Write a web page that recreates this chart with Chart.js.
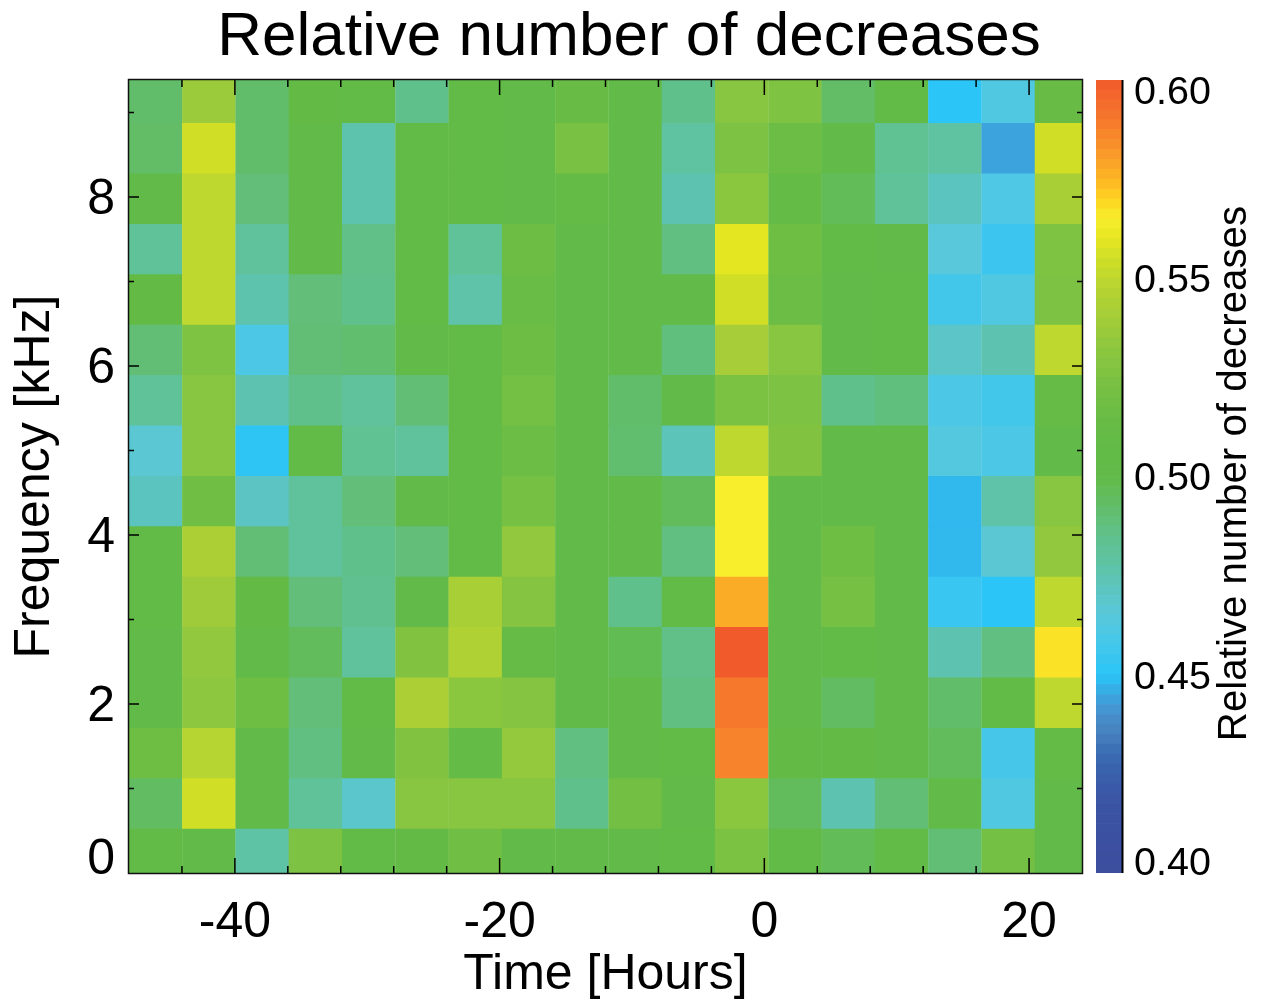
<!DOCTYPE html>
<html>
<head>
<meta charset="utf-8">
<title>Relative number of decreases</title>
<script src="https://cdn.jsdelivr.net/npm/chart.js@4/dist/chart.umd.js"></script>
<style>
html,body{margin:0;padding:0;background:#fff;width:1268px;height:1001px;overflow:hidden}
canvas{position:absolute;left:0;top:0}
</style>
</head>
<body>
<canvas id="main" width="1258" height="1001"></canvas>
<canvas id="bar" width="1268" height="1001"></canvas>
<script>
// Bin centres in hours, and bin edges in kHz (bottom to top).
const timeCenters = [-45.987,-41.961,-37.935,-33.909,-29.883,-25.857,-21.831,-17.805,-13.779,-9.753,-5.727,-1.701,2.325,6.351,10.377,14.403,18.429,22.455];
const freqEdges = [-0.0765,0.52,1.1165,1.713,2.3095,2.906,3.5025,4.099,4.6955,5.292,5.8885,6.485,7.0815,7.678,8.2745,8.871,9.4675];

// Cell values, one array per frequency row, lowest frequency first.
const row01 = [.503,.500,.478,.525,.506,.508,.519,.500,.502,.502,.503,.524,.503,.496,.503,.490,.521,.500];
const row02 = [.494,.555,.502,.481,.469,.530,.530,.530,.485,.520,.502,.531,.495,.475,.490,.500,.462,.500];
const row03 = [.518,.547,.502,.487,.500,.527,.510,.535,.487,.500,.503,.587,.508,.508,.502,.495,.458,.510];
const row04 = [.502,.532,.518,.489,.504,.543,.531,.528,.500,.502,.487,.590,.500,.494,.500,.492,.505,.550];
const row05 = [.502,.534,.500,.495,.480,.527,.545,.511,.500,.497,.486,.600,.500,.504,.500,.475,.487,.567];
const row06 = [.505,.538,.508,.489,.484,.500,.542,.528,.500,.485,.505,.577,.500,.522,.500,.454,.450,.550];
const row07 = [.507,.543,.490,.480,.485,.489,.503,.534,.500,.502,.487,.565,.500,.518,.500,.448,.467,.534];
const row08 = [.472,.519,.471,.480,.489,.500,.503,.522,.500,.502,.495,.565,.500,.500,.500,.448,.477,.530];
const row09 = [.467,.530,.451,.506,.483,.480,.504,.516,.500,.491,.473,.550,.527,.500,.500,.463,.460,.500];
const row10 = [.481,.530,.475,.485,.480,.490,.503,.521,.500,.492,.500,.524,.525,.485,.488,.460,.457,.512];
const row11 = [.490,.526,.460,.490,.491,.500,.503,.517,.500,.501,.488,.541,.530,.500,.505,.470,.475,.550];
const row12 = [.508,.550,.476,.489,.485,.503,.477,.514,.500,.501,.501,.555,.516,.500,.505,.457,.462,.525];
const row13 = [.481,.550,.480,.500,.486,.503,.481,.517,.500,.501,.487,.560,.518,.503,.500,.465,.455,.526];
const row14 = [.500,.550,.489,.500,.476,.504,.504,.501,.510,.502,.475,.531,.509,.496,.481,.472,.461,.542];
const row15 = [.493,.555,.492,.500,.476,.507,.503,.501,.523,.502,.479,.525,.516,.500,.483,.479,.444,.555];
const row16 = [.492,.537,.492,.508,.506,.485,.503,.500,.513,.502,.485,.530,.526,.493,.507,.450,.462,.513];
const rows = [row01,row02,row03,row04,row05,row06,row07,row08,row09,row10,row11,row12,row13,row14,row15,row16];

// Colour scale.
const cbLevels = [.400,.405,.410,.415,.420,.425,.430,.435,.440,.445,.450,.455,.460,.465,.470,.475,.480,.485,.490,.495,.500,.505,.510,.515,.520,.525,.530,.535,.540,.545,.550,.555,.560,.565,.570,.575,.580,.585,.590,.595,.600];
const cbColors = ['#3c4e9e','#3c4f9f','#3b50a1','#3b52a2','#3a57a6','#3a60ac','#3a6cb3','#4680bf','#4690cc','#3aa8e0','#2bc5f7','#3cc6ef','#4cc8e6','#58c8da','#5cc5c8','#5dc3b0','#5fc29c','#60c08c','#62be74','#62bc5c','#62bb48','#62bb47','#64bb46','#6abc45','#72bf44','#7dc242','#88c540','#95c93d','#a5cd39','#b0d134','#bfd82f','#d0df26','#e5e622','#f8ee2c','#fdd220','#fdb525','#f99f29','#f88a2b','#f6782d','#f4692c','#f15a2b'];

const xTickLabels = ['-40','-20','0','20'];
const yTickLabels = ['0','2','4','6','8'];
const cbTickLabels = ['0.40','0.45','0.50','0.55','0.60'];

const FONT = '"Liberation Sans", Arial, sans-serif';
Chart.defaults.font.family = FONT;
Chart.defaults.color = '#000';

function hex(c){return [1,3,5].map(i=>parseInt(c.slice(i,i+2),16));}
function colorOf(v){
  let i=0;
  while(i<cbLevels.length-2 && v>cbLevels[i+1]) i++;
  const t=Math.max(0,Math.min(1,(v-cbLevels[i])/(cbLevels[i+1]-cbLevels[i])));
  const a=hex(cbColors[i]),b=hex(cbColors[i+1]);
  return 'rgb('+a.map((p,k)=>Math.round(p+(b[k]-p)*t)).join(',')+')';
}

const frame = {
  id:'frame',
  beforeDraw(chart){
    const y=chart.scales.y;
    y.getLabelItems(chart.chartArea).forEach(it=>{
      if(it.label==='') return;
      it.options.translation[1]=y.getPixelForValue(+it.label)+(it.label==='0'?-13:3);
    });
  },
  afterDatasetsDraw(chart){
    const {ctx,chartArea:a,scales:{x,y}}=chart;
    ctx.save();
    ctx.strokeStyle='#000';ctx.lineWidth=1.5;
    ctx.beginPath();
    x.ticks.forEach(t=>{
      if(t.value<=x.min||t.value>=x.max) return;
      const l=(t.value%20===0)?15:7, p=x.getPixelForValue(t.value);
      ctx.moveTo(p,a.bottom);ctx.lineTo(p,a.bottom-l);
      ctx.moveTo(p,a.top);ctx.lineTo(p,a.top+l);
    });
    y.ticks.forEach(t=>{
      if(t.value<=y.min||t.value>=y.max) return;
      const l=(t.value%2===0)?10:5, p=y.getPixelForValue(t.value);
      ctx.moveTo(a.left,p);ctx.lineTo(a.left+l,p);
      ctx.moveTo(a.right,p);ctx.lineTo(a.right-l,p);
    });
    ctx.stroke();
    ctx.lineWidth=1.5;
    ctx.strokeStyle='#111';
    ctx.strokeRect(a.left-0.5,a.top-0.5,a.right-a.left+1,a.bottom-a.top+1);
    ctx.restore();
  }
};

new Chart(document.getElementById('main'),{
  type:'bar',
  plugins:[frame],
  data:{datasets:rows.map((vals,r)=>({
    label:'row'+(r+1),
    stack:'cells',
    data:vals.map((v,c)=>({x:timeCenters[c],y:[freqEdges[r],freqEdges[r+1]],v})),
    backgroundColor:vals.map(colorOf),
    borderWidth:0,barPercentage:1,categoryPercentage:1
  }))},
  options:{
    responsive:false,animation:false,devicePixelRatio:1,
    layout:{padding:0},
    plugins:{
      legend:{display:false},tooltip:{enabled:false},
      title:{display:true,text:'Relative number of decreases',
        font:{size:62,weight:'normal'},color:'#000',padding:{top:0.6,bottom:5}}
    },
    scales:{
      x:{type:'linear',min:-48,max:24,stacked:true,offset:false,
        grid:{display:false,offset:false},border:{display:false},
        ticks:{stepSize:4,autoSkip:false,maxRotation:0,padding:12,font:{size:50},
          callback:v=>xTickLabels.includes(String(v))?String(v):''},
        title:{display:true,text:'Time [Hours]',font:{size:50},padding:{top:0,bottom:-4}},
        afterFit(s){s.height=128;}
      },
      y:{type:'linear',min:0,max:9.385,stacked:false,
        grid:{display:false},border:{display:false},
        ticks:{stepSize:1,includeBounds:false,autoSkip:false,padding:6,font:{size:50},
          callback:v=>yTickLabels.includes(String(v))?String(v):''},
        title:{display:true,text:'Frequency [kHz]',font:{size:50},padding:{top:5,bottom:0}},
        afterFit(s){s.width=129;}
      },
      // empty right-hand gutter reserving the colour bar's room, so the title centres on the page
      gutter:{type:'linear',position:'right',display:true,
        grid:{display:false},border:{display:false},ticks:{display:false},
        afterFit(s){s.width=176;}
      }
    }
  }
});

const barTitle = {
  id:'barTitle',
  beforeDraw(chart){
    const y=chart.scales.y, ends={'0.60':13,'0.40':-9};
    y.getLabelItems(chart.chartArea).forEach(it=>{
      if(it.label==='') return;
      const d=ends[it.label]!==undefined?ends[it.label]:3;
      it.options.translation[1]=y.getPixelForValue(+it.label)+d;
    });
  },
  afterDraw(chart){
    const c=chart.ctx,a=chart.chartArea;
    c.save();
    c.strokeStyle='#000';c.lineWidth=2;
    c.beginPath();c.moveTo(a.right+0.5,a.top);c.lineTo(a.right+0.5,a.bottom);c.stroke();
    c.translate(1234.5,473.5);c.rotate(-Math.PI/2);
    c.font='40.3px '+FONT;c.fillStyle='#000';c.textAlign='center';c.textBaseline='middle';
    c.fillText('Relative number of decreases',0,0);
    c.restore();
  }
};

// Each colour-scale step is shown as two bands, as finely as the reference's bar.
const barBands = [];
cbLevels.slice(1).forEach((hi,i)=>{
  const lo=cbLevels[i], mid=(lo+hi)/2;
  barBands.push([lo,mid],[mid,hi]);
});

new Chart(document.getElementById('bar'),{
  type:'bar',
  plugins:[barTitle],
  data:{labels:['colour'],datasets:barBands.map((b,i)=>({
    label:'band'+i,stack:'bar',
    data:[b],
    backgroundColor:colorOf((b[0]+b[1])/2),
    borderWidth:0,barPercentage:1,categoryPercentage:1
  }))},
  options:{
    responsive:false,animation:false,devicePixelRatio:1,
    layout:{padding:{left:1096,right:0,top:80,bottom:128}},
    plugins:{legend:{display:false},tooltip:{enabled:false}},
    scales:{
      x:{display:false,stacked:true},
      y:{position:'right',min:.4,max:.6,stacked:false,
        grid:{display:false},border:{display:false},
        ticks:{stepSize:.05,padding:4,font:{size:39.5},autoSkip:false,
          callback:v=>cbTickLabels.find(t=>Math.abs(+t-v)<1e-6)||''},
        afterFit(s){s.width=146;}
      }
    }
  }
});
</script>
</body>
</html>
